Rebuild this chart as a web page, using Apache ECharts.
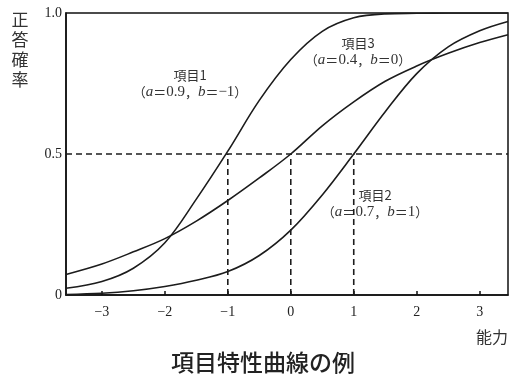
<!DOCTYPE html>
<html>
<head>
<meta charset="utf-8">
<script src="https://cdn.jsdelivr.net/npm/echarts@6/dist/echarts.min.js"></script>
<style>
html,body{margin:0;padding:0;background:#fff;}
#c{width:518px;height:380px;}
</style>
</head>
<body>
<div id="c"></div>
<script>
// ability grid (x) and probability of correct answer for each item
const abilities = [-3.57, -3, -2.5, -2, -1.5, -1, -0.5, 0, 0.5, 1, 1.5, 2, 2.5, 3, 3.45];
const item1 = [0.024, 0.048, 0.095, 0.185, 0.34, 0.51, 0.69, 0.835, 0.935, 0.983, 0.997, 0.999, 1.0, 1.0, 1.0];
const item2 = [0.002, 0.006, 0.015, 0.03, 0.052, 0.083, 0.14, 0.23, 0.355, 0.50, 0.65, 0.785, 0.88, 0.937, 0.97];
const item3 = [0.073, 0.11, 0.153, 0.20, 0.262, 0.335, 0.415, 0.50, 0.60, 0.685, 0.758, 0.812, 0.857, 0.895, 0.923];
const difficulties = [-1, 0, 1];
const halfProb = 0.5;
const xTicks = [-3, -2, -1, 0, 1, 2, 3];
const yTicks = [0, 0.5, 1];
const xMin = -3.57, xMax = 3.45;

const pairs = ys => abilities.map((x, i) => [x, ys[i]]);
const curveStyle = { color: '#1c1c1c', width: 1.6 };
const dashStyle = { color: '#1c1c1c', width: 1.6, type: [6, 4] };

const series = [
  { type: 'line', data: pairs(item1), smooth: 0.35, showSymbol: false, lineStyle: curveStyle, z: 3 },
  { type: 'line', data: pairs(item2), smooth: 0.35, showSymbol: false, lineStyle: curveStyle, z: 3 },
  { type: 'line', data: pairs(item3), smooth: 0.35, showSymbol: false, lineStyle: curveStyle, z: 3 },
  { type: 'line', data: [[xMin, halfProb], [xMax, halfProb]], showSymbol: false, lineStyle: dashStyle, z: 2 }
];
difficulties.forEach(b => {
  series.push({ type: 'line', data: [[b, 0], [b, halfProb]], showSymbol: false, lineStyle: dashStyle, z: 2 });
});

const chart = echarts.init(document.getElementById('c'), null, { renderer: 'canvas' });
const serif = '"Liberation Serif", "DejaVu Serif", serif';
const cjk = '"Noto Sans CJK JP", "Noto Sans", sans-serif';
const richA = {
  i: { fontFamily: serif, fontStyle: 'italic', fontSize: 15, fill: '#333' },
  n: { fontFamily: serif, fontSize: 15, fill: '#333' }
};
function annot(x, y, title, a, b) {
  return [
    { type: 'text', x: x, y: y, style: { text: title, fontFamily: cjk, fontSize: 13, fill: '#333', align: 'center', verticalAlign: 'middle' } },
    { type: 'text', x: x, y: y + 17, style: {
      text: '（{i|a}＝{n|' + a + '}，{i|b}＝{n|' + b + '}）', rich: richA,
      fontFamily: cjk, fontSize: 13, fill: '#333', align: 'center', verticalAlign: 'middle' } }
  ];
}

chart.setOption({
  animation: false,
  backgroundColor: '#fff',
  grid: { left: 66, right: 10, top: 13, bottom: 85, show: true, borderColor: '#111', borderWidth: 1.5, backgroundColor: 'transparent' },
  xAxis: {
    type: 'value', min: xMin, max: xMax,
    splitLine: { show: false },
    axisLine: { show: true, onZero: false, lineStyle: { color: '#111', width: 1.5 } },
    axisTick: { show: true, inside: true, length: 4, customValues: xTicks, lineStyle: { color: '#111', width: 1.5 } },
    axisLabel: { customValues: xTicks, margin: 10, fontFamily: serif, fontSize: 14, color: '#222',
      formatter: v => v < 0 ? '−' + Math.abs(v) : String(v) },
    name: '能力', nameLocation: 'end', nameGap: 0,
    nameTextStyle: { fontFamily: cjk, fontSize: 16, color: '#333', align: 'right', verticalAlign: 'top', padding: [34, 0, 0, 0] }
  },
  yAxis: {
    type: 'value', min: 0, max: 1,
    splitLine: { show: false },
    axisLine: { show: true, onZero: false, lineStyle: { color: '#111', width: 1.5 } },
    axisTick: { show: false, customValues: yTicks },
    axisLabel: { customValues: yTicks, margin: 4, fontFamily: serif, fontSize: 14, color: '#222',
      formatter: v => v === 0 ? '0' : v.toFixed(1) }
  },
  graphic: [
    { type: 'text', x: 20, y: 50, style: { text: '正\n答\n確\n率', fontFamily: cjk, fontSize: 17, lineHeight: 20, fill: '#333', align: 'center', verticalAlign: 'middle' } },
    { type: 'text', x: 263, y: 362, style: { text: '項目特性曲線の例', fontFamily: cjk, fontSize: 23, fontWeight: 500, fill: '#222', align: 'center', verticalAlign: 'middle' } },
    ...annot(190, 75, '項目1', '0.9', '−1'),
    ...annot(358, 43, '項目3', '0.4', '0'),
    ...annot(375, 195, '項目2', '0.7', '1')
  ],
  series: series
});
</script>
</body>
</html>
